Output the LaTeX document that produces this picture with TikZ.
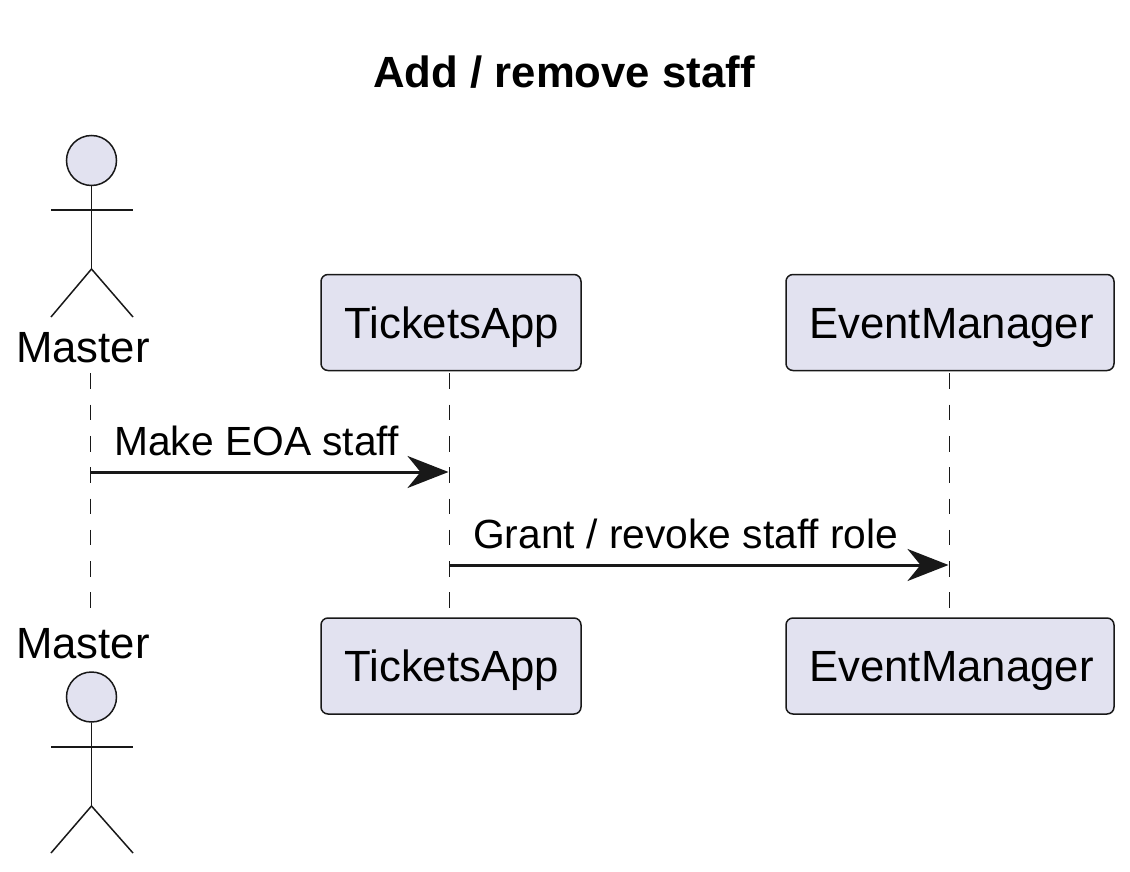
\documentclass[tikz,border=0pt]{standalone}
\usepackage{fontspec}
\setmainfont{Liberation Sans}
\usetikzlibrary{arrows.meta}
\definecolor{pfill}{HTML}{E2E2F0}
\definecolor{pline}{HTML}{181818}
\tikzset{
  x=1pt,y=-1pt,
  partbox/.style={draw=pline,fill=pfill,line width=1.5pt,rounded corners=7pt,minimum width=260pt,minimum height=96pt,inner sep=0pt,anchor=center},
  parttext/.style={font=\fontsize{43.7}{50}\selectfont,inner sep=0pt,anchor=base,text=black},
  msgtext/.style={font=\fontsize{40.75}{46}\selectfont,inner sep=0pt,anchor=base west,text=black},
  titletext/.style={font=\fontsize{43.7}{50}\selectfont\bfseries,inner sep=0pt,anchor=base,text=black},
  lifeline/.style={draw=pline,line width=1.5pt,dash pattern=on 15.65pt off 15.65pt},
  message/.style={draw=pline,line width=3pt,-{Stealth[length=41pt,width=32pt,inset=13pt,fill=pline]}},
  stick/.style={draw=pline,line width=1.5pt},
  head/.style={circle,draw=pline,fill=pfill,line width=1.5pt,minimum size=50pt,inner sep=0pt},
}
\begin{document}
\begin{tikzpicture}
\useasboundingbox (0,0) rectangle (1130,872);
\node[titletext] (title) at (564,88) {Add / remove staff};

% top actor
\node[head] (headA) at (91.5,160.5) {};
\coordinate (hipA) at (91.5,269);
\coordinate (armLA) at (51,210);
\coordinate (armRA) at (133,210);
\coordinate (footLA) at (51,317);
\coordinate (footRA) at (133,317);
\draw[stick] (headA.south) -- (hipA);
\draw[stick] (armLA) -- (armRA);
\draw[stick] (footLA) -- (hipA) -- (footRA);
\node[parttext] (masterA) at (83,362) {Master};

% top boxes
\node[partbox] (ticketsA) at (451,322.5) {};
\node[parttext] at (451.7,338) {TicketsApp};
\node[partbox,minimum width=328pt] (managerA) at (950,322.5) {};
\node[parttext] at (951.5,338) {EventManager};

% bottom boxes
\node[partbox] (ticketsB) at (451,666) {};
\node[parttext] at (451.7,681) {TicketsApp};
\node[partbox,minimum width=328pt] (managerB) at (950,666) {};
\node[parttext] at (951.5,681) {EventManager};

% bottom actor
\node[parttext] (masterB) at (83,658) {Master};
\node[head] (headB) at (91.5,697) {};
\coordinate (hipB) at (91.5,806);
\coordinate (armLB) at (51,747);
\coordinate (armRB) at (133,747);
\coordinate (footLB) at (51,853);
\coordinate (footRB) at (133,853);
\draw[stick] (headB.south) -- (hipB);
\draw[stick] (armLB) -- (armRB);
\draw[stick] (footLB) -- (hipB) -- (footRB);

% lifelines
\coordinate (l1t) at (90.4,373.3); \coordinate (l1b) at (90.4,608);
\coordinate (l2t) at (449.3,373.3); \coordinate (l2b) at (449.3,608);
\coordinate (l3t) at (949.4,373.3); \coordinate (l3b) at (949.4,608);
\draw[lifeline] (l1t) -- (l1b);
\draw[lifeline] (l2t) -- (l2b);
\draw[lifeline] (l3t) -- (l3b);

% messages
\coordinate (m1s) at (90.4,472); \coordinate (m1e) at (448.5,472);
\coordinate (m2s) at (449.3,565); \coordinate (m2e) at (948.5,565);
\draw[message] (m1s) -- (m1e);
\draw[message] (m2s) -- (m2e);
\node[msgtext] (m1t) at (114,455) {Make EOA staff};
\node[msgtext] (m2t) at (473,548) {Grant / revoke staff role};
\end{tikzpicture}
\end{document}
